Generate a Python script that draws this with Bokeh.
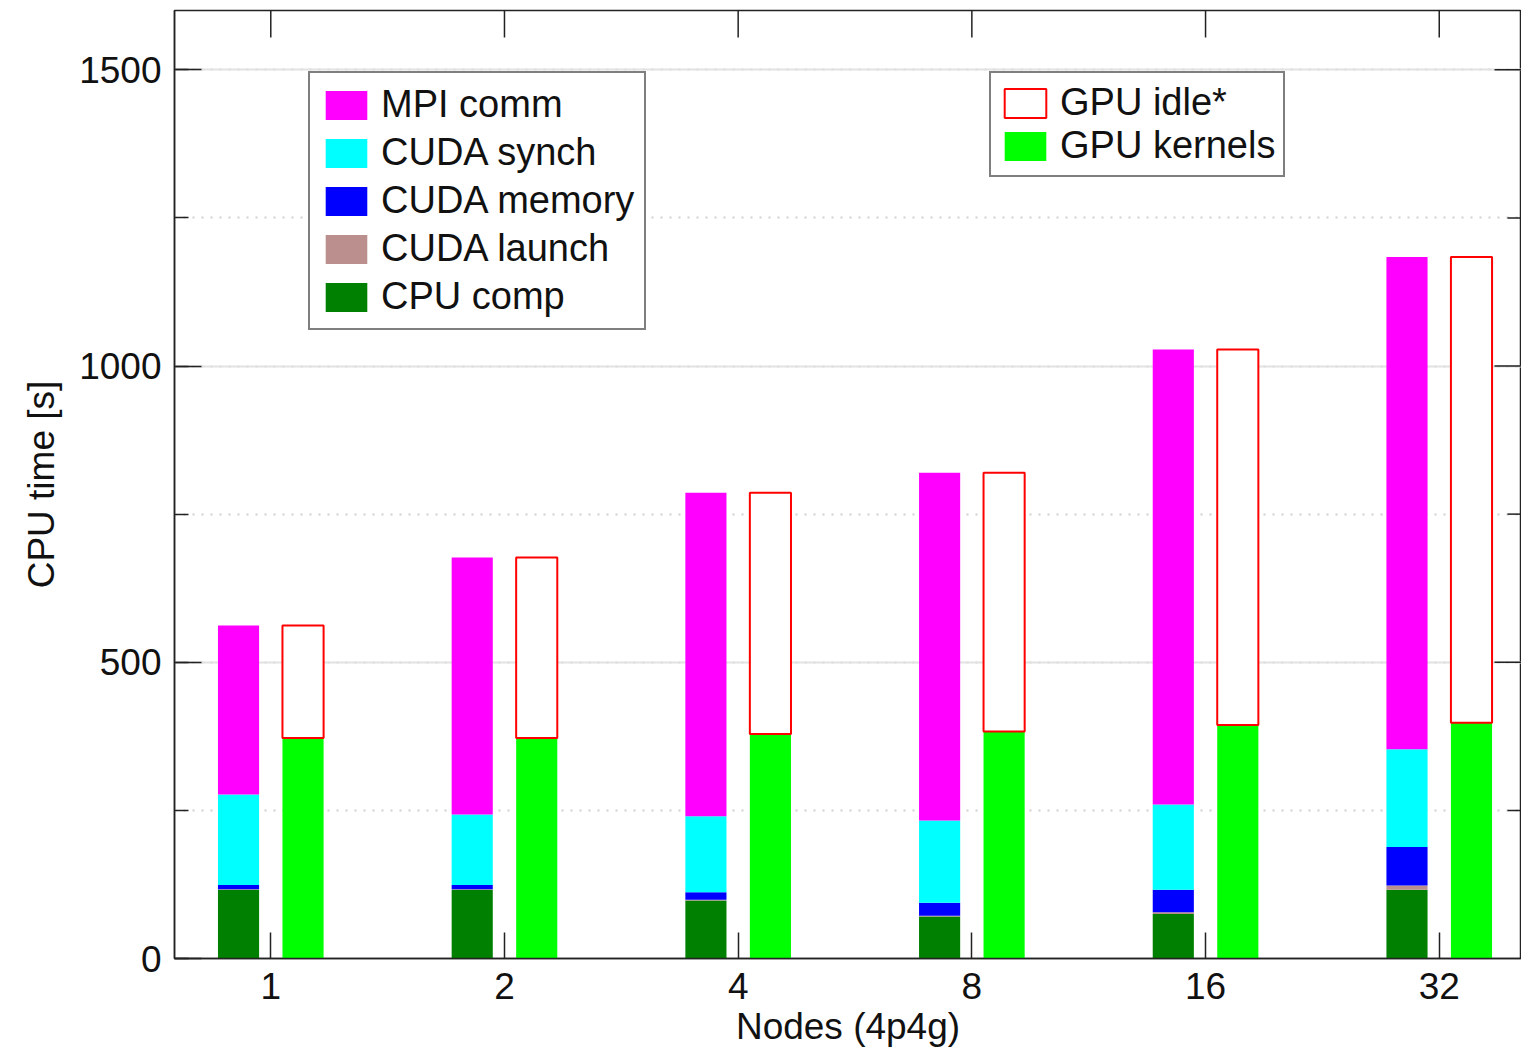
import math

from bokeh.plotting import figure
from bokeh.models import (ColumnDataSource, Range1d, FixedTicker,
                          SingleIntervalTicker, Legend, LegendItem)
from bokeh.embed import file_html
from bokeh.resources import INLINE

# Per-node-count time breakdown (seconds)
nodes = ["1", "2", "4", "8", "16", "32"]
cpu_comp = [116, 116, 98, 71, 75, 116]
cuda_launch = [1, 1, 1, 1, 3, 7]
cuda_memory = [7, 7, 13, 22, 38, 65]
cuda_synch = [153, 119, 128, 139, 144, 165]
mpi_comm = [285, 434, 546, 587, 768, 831]
gpu_kernels = [372, 372, 379, 383, 394, 398]

cpu_labels = ["MPI comm", "CUDA synch", "CUDA memory", "CUDA launch", "CPU comp"]
cpu_colors = {"MPI comm": "#ff00ff", "CUDA synch": "#00ffff",
              "CUDA memory": "#0000ff", "CUDA launch": "#bc8f8f",
              "CPU comp": "#008000"}

FONT = "Liberation Sans"
OFFSET = 0.138
BAR_W = 0.176
Y_MAX = 1600
Y_STEP = 500

idx = list(range(len(nodes)))
total = [sum(v) for v in zip(cpu_comp, cuda_launch, cuda_memory, cuda_synch, mpi_comm)]

src = ColumnDataSource(dict(
    x_cpu=[i - OFFSET for i in idx],
    x_gpu=[i + OFFSET for i in idx],
    cpu_comp=cpu_comp, cuda_launch=cuda_launch, cuda_memory=cuda_memory,
    cuda_synch=cuda_synch, mpi_comm=mpi_comm,
    gpu_kernels=gpu_kernels, gpu_total=total,
))

x_range = Range1d(-0.412, 5.352)
p = figure(width=1521, height=1050,
           x_range=x_range, y_range=Range1d(0, Y_MAX),
           output_backend="svg", toolbar_location=None,
           min_border_left=174, min_border_right=0,
           min_border_top=10, min_border_bottom=92)
p.background_fill_color = "white"
p.border_fill_color = "white"
p.outline_line_color = "#222222"
p.outline_line_width = 1.5

# CPU-side stacked bars
stack_order = ["cpu_comp", "cuda_launch", "cuda_memory", "cuda_synch", "mpi_comm"]
stack_colors = [cpu_colors["CPU comp"], cpu_colors["CUDA launch"],
                cpu_colors["CUDA memory"], cpu_colors["CUDA synch"],
                cpu_colors["MPI comm"]]
cpu_rs = p.vbar_stack(stack_order, x="x_cpu", width=BAR_W, source=src,
                      fill_color=stack_colors, line_color=None)
r_by_label = dict(zip(["CPU comp", "CUDA launch", "CUDA memory",
                       "CUDA synch", "MPI comm"], cpu_rs))

# GPU-side bars: kernel time plus idle remainder up to the CPU total
r_kern = p.vbar(x="x_gpu", bottom=0, top="gpu_kernels", width=BAR_W, source=src,
                fill_color="#00ff00", line_color=None)
r_idle = p.vbar(x="x_gpu", bottom="gpu_kernels", top="gpu_total", width=BAR_W,
                source=src, fill_color="white", line_color="#ff0000", line_width=2)

# Axes (left and bottom carry labels)
y_ticker = SingleIntervalTicker(interval=Y_STEP, num_minor_ticks=2)
x_ticker = FixedTicker(ticks=idx)

def style_axis(ax):
    ax.axis_line_color = "#222222"
    ax.axis_line_width = 1.5
    ax.major_tick_line_color = "#222222"
    ax.major_tick_line_width = 1.5
    ax.minor_tick_line_color = "#222222"
    ax.minor_tick_line_width = 1.5
    ax.major_tick_out = 0
    ax.minor_tick_out = 0
    ax.major_label_text_font = FONT
    ax.major_label_text_color = "#111111"
    ax.major_label_text_font_size = "37px"
    ax.axis_label_text_font = FONT
    ax.axis_label_text_font_size = "37px"
    ax.axis_label_text_font_style = "normal"
    ax.axis_label_text_color = "#111111"

yax = p.yaxis[0]
yax.ticker = y_ticker
style_axis(yax)
yax.major_tick_in = 27
yax.minor_tick_in = 14
yax.major_label_standoff = 13
yax.axis_label = "CPU time [s]"
yax.axis_label_standoff = 14

xax = p.xaxis[0]
xax.ticker = x_ticker
style_axis(xax)
xax.major_tick_in = 26
xax.minor_tick_in = 0
xax.major_label_overrides = {i: n for i, n in zip(idx, nodes)}
xax.major_label_standoff = 14
xax.axis_label = "Nodes (4p4g)"
xax.axis_label_standoff = 4

# Inward ticks on the top and right frame edges (no labels there)
tick_style = dict(line_color="#222222", line_width=1.5, length_units="screen")
y_major = list(range(Y_STEP, Y_MAX + 1, Y_STEP))
y_minor = [v + Y_STEP // 2 for v in range(0, Y_MAX, Y_STEP) if v + Y_STEP // 2 < Y_MAX]
p.ray(x=idx, y=[Y_MAX] * len(idx), length=27, angle=-math.pi / 2, **tick_style)
p.ray(x=[x_range.end] * len(y_major), y=y_major, length=27, angle=math.pi, **tick_style)
p.ray(x=[x_range.end] * len(y_minor), y=y_minor, length=14, angle=math.pi, **tick_style)

# Grid: solid major lines, dotted minor lines
p.xgrid.visible = False
p.ygrid.ticker = y_ticker
p.ygrid.grid_line_color = "#e2e2e2"
p.ygrid.grid_line_width = 2
p.ygrid.minor_grid_line_color = "#d0d0d0"
p.ygrid.minor_grid_line_width = 2
p.ygrid.minor_grid_line_dash = "2 7"

# Legends
def make_legend(items, vx, vy, spacing, padding):
    lg = Legend(items=items, location=(vx, vy))
    lg.label_text_font = FONT
    lg.label_text_font_size = "38px"
    lg.label_text_color = "#111111"
    lg.glyph_width = 52
    lg.glyph_height = 36
    lg.label_standoff = 9
    lg.padding = padding
    lg.spacing = spacing
    lg.margin = 0
    lg.border_line_color = "#000000"
    lg.border_line_width = 2
    lg.background_fill_color = "white"
    lg.background_fill_alpha = 1.0
    return lg

cpu_items = [LegendItem(label=lbl, renderers=[r_by_label[lbl]]) for lbl in cpu_labels]
p.add_layout(make_legend(cpu_items, 134, 628, 5, 10))

gpu_items = [LegendItem(label="GPU idle*", renderers=[r_idle]),
             LegendItem(label="GPU kernels", renderers=[r_kern])]
p.add_layout(make_legend(gpu_items, 815, 781, 0, 8))

open("out.html", "w").write(file_html(p, INLINE))
